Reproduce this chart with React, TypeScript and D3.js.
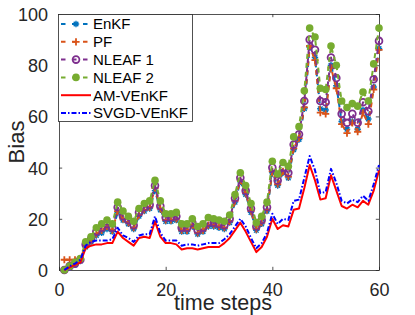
import * as d3 from 'd3';
import React, { Component, RefObject } from 'react';

// time steps 1..60
const timeSteps = d3.range(1, 61);

const enkf = [0, 1, 2, 3.5, 9, 11, 13.5, 14.5, 16, 15, 22.5, 19.5, 18, 16, 21, 23, 24, 31, 23.5, 19,
    19, 19.5, 15, 15, 17, 14, 15, 17, 17, 16.5, 16, 18.5, 26.5, 34.5, 29.5, 22.5, 15.5, 18, 23, 38,
    33, 38, 36, 47, 51, 63, 87, 83, 63, 62.5, 80, 72, 58, 55, 58, 55, 62.5, 59, 71.5, 86.5];
const pf = [4, 4, 4, 4.5, 9.5, 11.5, 14, 15.5, 17, 15.5, 23, 20, 18.5, 16.5, 21.5, 23.5, 24.5, 32, 24, 19.5,
    19.5, 20, 15.5, 15.5, 17.5, 14.5, 15.5, 17.5, 17.5, 17, 16.5, 19, 27, 35, 30, 23, 16, 18.5, 23.5, 38.5,
    33.5, 38.5, 36.5, 47.5, 51.5, 63.5, 87.5, 82, 61.5, 61, 79, 71, 57, 53.5, 57.5, 54, 61.5, 57, 70.5, 86];
const nleaf1 = [0, 1.5, 2.5, 4, 10, 12, 15, 16.5, 18, 16.5, 24.5, 21, 19.5, 17.5, 22.5, 24.5, 25.5, 33, 25, 20.5,
    20.5, 21, 16.5, 16.5, 18.5, 15.5, 16.5, 18.5, 18.5, 18, 17.5, 20, 28, 36, 31, 24, 17, 19.5, 24.5, 40,
    35, 40, 38, 49, 53, 66, 90, 86, 66, 65.5, 83, 75, 61, 57.5, 61, 57.5, 65.5, 62, 74.5, 89.5];
const nleaf2 = [0, 1.5, 3, 4.5, 11, 13, 16.5, 18, 19.5, 18, 26.5, 23, 21, 19, 24, 26, 27, 35, 27, 22,
    22, 22.5, 18, 18, 20, 17, 18, 20.5, 20, 19.5, 19, 21.5, 29.5, 38, 33, 26, 18.5, 21, 26.5, 42.5,
    37.5, 42, 40.5, 52, 56, 70, 94.5, 91, 71, 70.5, 87.5, 80, 66, 63.5, 65, 64, 69.5, 66, 80.5, 94.5];
const amVenkf = [0, 1, 2, 3, 8.5, 9.5, 10, 10, 10.5, 10.5, 15, 12.5, 11, 9.5, 12.5, 13, 12.5, 19, 13, 10.5,
    10.5, 10, 8, 8.5, 8.5, 8, 8.5, 9, 9, 9, 10.5, 12.5, 15.5, 18.5, 15, 11, 7, 9, 13, 20,
    16, 17.5, 17, 23.5, 24, 32, 41, 35, 27.5, 28, 37, 31, 25, 24, 25.5, 24.5, 27, 25.5, 31, 39];
const svgdVenkf = [0, 1.5, 2.5, 4, 9.5, 11, 11.5, 11.5, 11.5, 12, 16.5, 13.5, 12.5, 11, 13.5, 14, 14, 21, 14.5, 11.5,
    11.5, 11.5, 9.5, 10, 10, 9.5, 10, 10.5, 10.5, 10.5, 12, 14, 17, 20, 17, 12.5, 8.5, 10.5, 14.5, 22,
    18, 20, 19.5, 27, 27.5, 36, 44.5, 39, 30, 30.5, 39.5, 34, 27, 26, 27.5, 26.5, 29, 27, 33.5, 41];

const seriesNames = ['EnKF', 'PF', 'NLEAF 1', 'NLEAF 2', 'AM-VEnKF', 'SVGD-VEnKF'];
const xTicks = [0, 20, 40, 60];
const yTicks = [0, 20, 40, 60, 80, 100];

interface SeriesStyle {
    name: string;
    values: number[];
    color: string;
    dash: string | null;
    marker: 'star' | 'plus' | 'ring' | 'dot' | null;
}

const FONT = '"Liberation Sans", Arial, Helvetica, sans-serif';
const INK = '#262626';

function markerPath(kind: string, r: number): string {
    if (kind === 'plus') {
        return `M${-r},0L${r},0M0,${-r}L0,${r}`;
    }
    // asterisk: + and x
    const d = r * 0.72;
    return `M${-r},0L${r},0M0,${-r}L0,${r}M${-d},${-d}L${d},${d}M${-d},${d}L${d},${-d}`;
}

export default class App extends Component<{}> {
    private ref: RefObject<SVGGElement>;

    constructor(props: {}) {
        super(props);
        this.ref = React.createRef();
    }

    componentDidMount() {
        this.init();
    }

    init() {
        const node = this.ref.current;
        const left = 59, right = 379, top = 14, bottom = 270;

        const x = d3.scaleLinear().domain([0, 60]).range([left, right]);
        const y = d3.scaleLinear().domain([0, 100]).range([bottom, top]);

        const g = d3.select(node);
        g.selectAll('*').remove();

        const series: SeriesStyle[] = [
            { name: seriesNames[0], values: enkf, color: '#0072BD', dash: '5,4', marker: 'star' },
            { name: seriesNames[1], values: pf, color: '#D95319', dash: '5,4', marker: 'plus' },
            { name: seriesNames[2], values: nleaf1, color: '#7E2F8E', dash: '5,4', marker: 'ring' },
            { name: seriesNames[3], values: nleaf2, color: '#77AC30', dash: '5,4', marker: 'dot' },
            { name: seriesNames[4], values: amVenkf, color: '#FF0000', dash: null, marker: null },
            { name: seriesNames[5], values: svgdVenkf, color: '#0000FF', dash: '5,2,1.5,2', marker: null },
        ];

        // axes with inward ticks
        const styleAxis = (a: d3.Selection<SVGGElement, unknown, null, undefined>) => {
            a.attr('font-family', FONT).attr('font-size', 18);
            a.select('.domain').attr('stroke', INK).attr('stroke-width', 0.8);
            a.selectAll('.tick line').attr('stroke', INK).attr('stroke-width', 0.8);
            a.selectAll('.tick text').attr('fill', INK);
        };

        const gx = g.append('g').attr('transform', `translate(0,${bottom})`)
            .call(d3.axisBottom(x).tickValues(xTicks).tickSizeInner(-3.2).tickSizeOuter(0).tickPadding(13));
        styleAxis(gx);
        const gxt = g.append('g').attr('transform', `translate(0,${top})`)
            .call(d3.axisTop(x).tickValues(xTicks).tickSizeInner(-3.2).tickSizeOuter(0).tickFormat(() => ''));
        styleAxis(gxt);
        const gy = g.append('g').attr('transform', `translate(${left},0)`)
            .call(d3.axisLeft(y).tickValues(yTicks).tickSizeInner(-3.2).tickSizeOuter(0).tickPadding(11));
        styleAxis(gy);
        gy.selectAll('.tick text').attr('dy', '0.36em');
        const gyr = g.append('g').attr('transform', `translate(${right},0)`)
            .call(d3.axisRight(y).tickValues(yTicks).tickSizeInner(-3.2).tickSizeOuter(0).tickFormat(() => ''));
        styleAxis(gyr);

        const line = d3.line<number>()
            .x((_d, i) => x(timeSteps[i]))
            .y((d) => y(d));

        const drawMarker = (sel: d3.Selection<any, any, any, any>, s: SeriesStyle) => {
            if (s.marker === 'dot') {
                sel.append('circle').attr('r', 3.8).attr('fill', s.color);
            } else if (s.marker === 'ring') {
                sel.append('circle').attr('r', 3.4).attr('fill', 'none')
                    .attr('stroke', s.color).attr('stroke-width', 1.8);
            } else if (s.marker === 'plus') {
                sel.append('path').attr('d', markerPath('plus', 3.6)).attr('fill', 'none')
                    .attr('stroke', s.color).attr('stroke-width', 1.8);
            } else if (s.marker === 'star') {
                sel.append('path').attr('d', markerPath('star', 3.2)).attr('fill', 'none')
                    .attr('stroke', s.color).attr('stroke-width', 1.4);
            }
        };

        const plot = g.append('g');
        series.forEach((s) => {
            plot.append('path')
                .datum(s.values)
                .attr('d', line)
                .attr('fill', 'none')
                .attr('stroke', s.color)
                .attr('stroke-width', 2)
                .attr('stroke-dasharray', s.dash)
                .attr('stroke-linejoin', 'round');
            if (s.marker) {
                plot.append('g')
                    .selectAll('g')
                    .data(s.values)
                    .join('g')
                    .attr('transform', (d, i) => `translate(${x(timeSteps[i])},${y(d)})`)
                    .each(function () {
                        drawMarker(d3.select(this), s);
                    });
            }
        });

        // axis labels
        g.append('text')
            .attr('x', 223).attr('y', 310)
            .attr('text-anchor', 'middle')
            .attr('font-family', FONT).attr('font-size', 21.5).attr('fill', INK)
            .text('time steps');
        g.append('text')
            .attr('transform', 'translate(24,142) rotate(-90)')
            .attr('text-anchor', 'middle')
            .attr('font-family', FONT).attr('font-size', 22).attr('fill', INK)
            .text('Bias');

        // legend
        const lg = g.append('g');
        lg.append('rect')
            .attr('x', 58.5).attr('y', 14.5).attr('width', 134).attr('height', 107)
            .attr('fill', 'white').attr('stroke', INK).attr('stroke-width', 0.8);
        const rowY = d3.scaleLinear().domain([0, 5]).range([24, 113]);
        series.forEach((s, i) => {
            const ry = rowY(i);
            lg.append('line')
                .attr('x1', 61).attr('x2', 91).attr('y1', ry).attr('y2', ry)
                .attr('stroke', s.color).attr('stroke-width', 2)
                .attr('stroke-dasharray', s.dash === '5,4' ? '4.5,6.5' : s.dash);
            if (s.marker) {
                drawMarker(lg.append('g').attr('transform', `translate(76,${ry})`), s);
            }
            lg.append('text')
                .attr('x', 93).attr('y', ry).attr('dy', '0.36em')
                .attr('font-family', FONT).attr('font-size', 15).attr('fill', '#000')
                .text(s.name);
        });
    }

    render() {
        return (
            <svg
                width={415}
                height={315}
                style={{ position: 'absolute', left: 0, top: 0, background: 'white' }}
            >
                <g ref={this.ref} />
            </svg>
        );
    }
}
